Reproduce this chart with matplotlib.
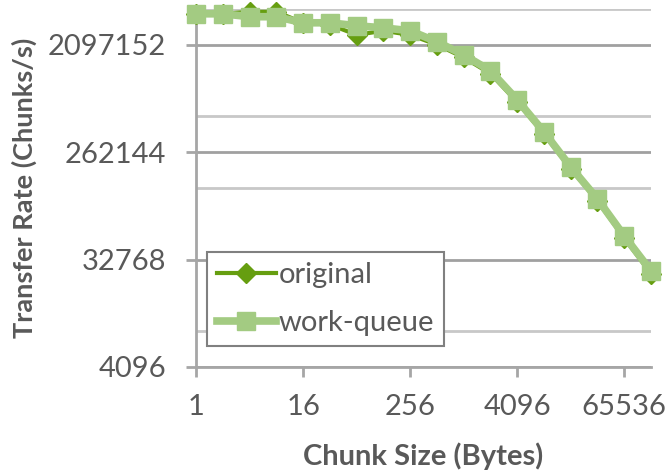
import matplotlib.pyplot as plt
import numpy as np
from matplotlib.ticker import FixedLocator, NullFormatter

plt.rcParams['font.family'] = ['Lato', 'DejaVu Sans']

# chunk sizes in bytes (x) and transfer rates in chunks/s (y)
chunk_size = [1, 2, 4, 8, 16, 32, 64, 128, 256, 512, 1024, 2048,
              4096, 8192, 16384, 32768, 65536, 131072]
original = [3820000, 3820000, 3970000, 3970000, 3210000, 3100000, 2540000,
            2750000, 2540000, 2100000, 1640000, 1200000, 690000, 372000,
            190000, 102000, 49500, 25000]
work_queue = [3820000, 3820000, 3610000, 3610000, 3210000, 3210000, 3030000,
              2910000, 2750000, 2220000, 1727000, 1267000, 722000, 388000,
              197000, 106000, 51800, 26300]

x_ticks = [1, 16, 256, 4096, 65536]
y_ticks = [4096, 32768, 262144, 2097152]
y_minor = [8192, 131072, 524288, 4194304]

txt = '#595959'
dark = '#669E10'
light = '#A3CB82'
fs = 21

fig = plt.figure(figsize=(6.67, 4.72), dpi=100)
ax = fig.add_axes([0.294, 0.2225, 0.682, 0.7585])

ax.plot(chunk_size, original, color=dark, lw=3, marker='D', ms=10,
        mec=dark, mfc=dark, label='original', clip_on=False, zorder=3)
ax.plot(chunk_size, work_queue, color=light, lw=5.5, marker='s', ms=13,
        mec=light, mfc=light, label='work-queue', clip_on=False, zorder=4)

ax.set_xscale('log', base=2)
ax.set_yscale('log', base=2)
ax.set_xlim(1, 131072)
ax.set_ylim(4096, 4194304)

ax.xaxis.set_major_locator(FixedLocator(x_ticks))
ax.xaxis.set_minor_locator(FixedLocator([]))
ax.set_xticklabels([str(v) for v in x_ticks])
ax.yaxis.set_major_locator(FixedLocator(y_ticks))
ax.yaxis.set_minor_locator(FixedLocator(y_minor))
ax.yaxis.set_minor_formatter(NullFormatter())
ax.set_yticklabels([str(v) for v in y_ticks])

ax.grid(True, which='major', axis='y', color='#A0A0A0', lw=2)
ax.grid(True, which='minor', axis='y', color='#C8C8C8', lw=2)
ax.set_axisbelow(True)

for s in ['top', 'right']:
    ax.spines[s].set_visible(False)
for s in ['left', 'bottom']:
    ax.spines[s].set_color('#A6A6A6')
    ax.spines[s].set_linewidth(2)

ax.tick_params(axis='both', which='major', length=7.5, width=2, color='#A6A6A6',
               labelsize=fs, labelcolor=txt)
ax.tick_params(axis='y', which='minor', length=0)
ax.tick_params(axis='x', pad=12)
ax.tick_params(axis='y', pad=14)

ax.set_xlabel('Chunk Size (Bytes)', fontsize=fs, fontweight='bold', color=txt)
ax.set_ylabel('Transfer Rate (Chunks/s)', fontsize=19.5, fontweight='bold', color=txt)
ax.xaxis.set_label_coords(0.5, -0.21)
ax.yaxis.set_label_coords(-0.35, 0.5)

leg = ax.legend(loc='upper left', bbox_to_anchor=(0.024, 0.321), borderaxespad=0,
                fontsize=fs, fancybox=False, framealpha=1, edgecolor='#808080',
                handlelength=2.0, handletextpad=0.1, borderpad=0.35, labelspacing=0.75)
leg.get_frame().set_linewidth(1.5)
for t in leg.get_texts():
    t.set_color(txt)

fig.savefig('out.png', dpi=100)
